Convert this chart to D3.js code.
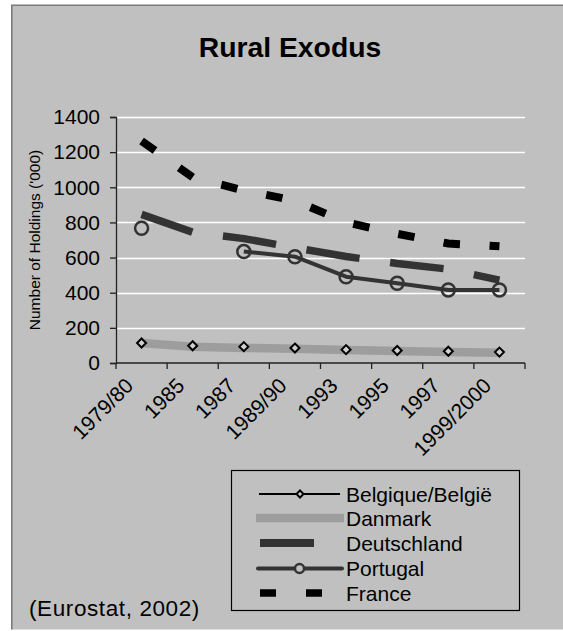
<!DOCTYPE html>
<html>
<head>
<meta charset="utf-8">
<script src="https://cdn.jsdelivr.net/npm/d3@7"></script>
<style>
  html, body { margin: 0; padding: 0; background: #ffffff; }
  svg { display: block; }
  text { font-family: Arial, "Liberation Sans", sans-serif; fill: #000; }
</style>
</head>
<body>
<svg id="chart" width="563" height="631"></svg>
<script>
// Number of agricultural holdings ('000), Eurostat 2002
const categories = ["1979/80", "1985", "1987", "1989/90", "1993", "1995", "1997", "1999/2000"];
const belgique   = [114, 98, 93, 85, 76, 71, 67, 62];
const danmark    = [114, 92, 86, 81, 74, 69, 63, 58];
const deutschland = [846, 744, 708, 656, 606, 566, 534, 472];
const portugal   = [767, null, 634, 605, 491, 454, 416, 416];
const france     = [1263, 1057, 982, 924, 801, 735, 680, 664];
const yTicks     = [0, 200, 400, 600, 800, 1000, 1200, 1400];
const seriesNames = ["Belgique/België", "Danmark", "Deutschland", "Portugal", "France"];

const svg = d3.select("#chart");
const bg = "#c0c0c0";

// chart area
svg.append("rect").attr("x", 11).attr("y", 5).attr("width", 560).attr("height", 624.5)
  .attr("fill", bg);
svg.append("path").attr("d", "M11.8,629.5V5.2H563")
  .attr("fill", "none").attr("stroke", "#7a7a7a").attr("stroke-width", 1.6);

const plot = { left: 116, right: 525, top: 117, bottom: 363 };

const x = d3.scaleBand().domain(categories).range([plot.left, plot.right]);
const cx = c => x(c) + x.bandwidth() / 2;
const y = d3.scaleLinear().domain([0, 1400]).range([plot.bottom, plot.top]);

// title
svg.append("text").attr("x", 290).attr("y", 57).attr("text-anchor", "middle")
  .style("font-size", "28.3px").style("font-weight", "bold").text("Rural Exodus");

// gridlines
svg.append("g").selectAll("line").data(yTicks.filter(d => d > 0)).join("line")
  .attr("x1", plot.left).attr("x2", plot.right)
  .attr("y1", d => Math.round(y(d)) + 0.5).attr("y2", d => Math.round(y(d)) + 0.5)
  .attr("stroke", "#ffffff").attr("stroke-width", 1.3);

// y axis
const yAxis = svg.append("g").attr("transform", `translate(${plot.left},0)`)
  .call(d3.axisLeft(y).tickValues(yTicks).tickSize(6).tickPadding(10).tickFormat(d3.format("d")));
yAxis.select(".domain").attr("stroke", "#222").attr("stroke-width", 1.3);
yAxis.selectAll(".tick line").attr("stroke", "#222").attr("stroke-width", 1.3);
yAxis.selectAll(".tick text").style("font-size", "21px")
  .style("font-family", "Arial, 'Liberation Sans', sans-serif").attr("fill", "#000");

// x axis: ticks between categories, rotated labels at centres
const xAxis = svg.append("g").attr("transform", `translate(0,${plot.bottom})`)
  .call(d3.axisBottom(x).tickSize(0).tickPadding(0));
xAxis.select(".domain").remove();
xAxis.append("line").attr("x1", plot.left).attr("x2", plot.right)
  .attr("stroke", "#222").attr("stroke-width", 1.3);
xAxis.selectAll("line.edge").data(categories.map(c => x(c)).concat([plot.right])).join("line")
  .attr("class", "edge")
  .attr("x1", d => d).attr("x2", d => d).attr("y1", 0).attr("y2", 6)
  .attr("stroke", "#222").attr("stroke-width", 1.3);
xAxis.selectAll(".tick text")
  .style("font-size", "21px").style("font-family", "Arial, 'Liberation Sans', sans-serif")
  .attr("fill", "#000")
  .attr("text-anchor", "end")
  .attr("dy", null)
  .attr("transform", "translate(-7,24) rotate(-45)");

// series lines
const line = d3.line().defined(d => d.v != null).x(d => cx(d.c)).y(d => y(d.v));
const pts = arr => categories.map((c, i) => ({ c, v: arr[i] }));

const lines = svg.append("g").attr("fill", "none");
lines.append("path").attr("d", line(pts(belgique)))
  .attr("stroke", "#000").attr("stroke-width", 1.5);
lines.append("path").attr("d", line(pts(danmark)))
  .attr("stroke", "#9d9d9d").attr("stroke-width", 8.5);
lines.append("path").attr("d", line(pts(deutschland)))
  .attr("stroke", "#333").attr("stroke-width", 7.5).attr("stroke-dasharray", "53.8,30.85");
lines.append("path").attr("d", line(pts(portugal)))
  .attr("stroke", "#333").attr("stroke-width", 4).attr("stroke-linejoin", "round");
lines.append("path").attr("d", line(pts(france)))
  .attr("stroke", "#000").attr("stroke-width", 8).attr("stroke-dasharray", "16.5,29.6");

// markers
const diamond = r => `M0,${-r}L${r},0L0,${r}L${-r},0Z`;
svg.append("g").selectAll("path").data(pts(belgique)).join("path")
  .attr("transform", d => `translate(${cx(d.c)},${y(d.v)})`)
  .attr("d", diamond(4.5)).attr("fill", "#d0d0d0").attr("stroke", "#000").attr("stroke-width", 2);
svg.append("g").selectAll("circle").data(pts(portugal).filter(d => d.v != null)).join("circle")
  .attr("cx", d => cx(d.c)).attr("cy", d => y(d.v)).attr("r", 6.5)
  .attr("fill", "none").attr("stroke", "#333").attr("stroke-width", 2.5);

// legend
const lg = svg.append("g");
lg.append("rect").attr("x", 231.5).attr("y", 470.5).attr("width", 288).attr("height", 140)
  .attr("fill", "none").attr("stroke", "#000").attr("stroke-width", 1.2);
const rowY = [494, 518, 543, 568.5, 593];
// Belgique/België
lg.append("line").attr("x1", 259).attr("x2", 340).attr("y1", rowY[0]).attr("y2", rowY[0])
  .attr("stroke", "#000").attr("stroke-width", 2);
lg.append("path").attr("transform", `translate(300,${rowY[0]})`).attr("d", diamond(3.5))
  .attr("fill", "#d0d0d0").attr("stroke", "#000").attr("stroke-width", 2);
// Danmark
lg.append("line").attr("x1", 256).attr("x2", 344).attr("y1", rowY[1]).attr("y2", rowY[1])
  .attr("stroke", "#9d9d9d").attr("stroke-width", 8.5);
// Deutschland
lg.append("line").attr("x1", 260).attr("x2", 314).attr("y1", rowY[2]).attr("y2", rowY[2])
  .attr("stroke", "#333").attr("stroke-width", 8);
// Portugal
lg.append("line").attr("x1", 258).attr("x2", 342).attr("y1", rowY[3]).attr("y2", rowY[3])
  .attr("stroke", "#333").attr("stroke-width", 4).attr("stroke-linecap", "round");
lg.append("circle").attr("cx", 299.5).attr("cy", rowY[3]).attr("r", 4.5)
  .attr("fill", bg).attr("stroke", "#333").attr("stroke-width", 2.5);
// France
lg.append("line").attr("x1", 260).attr("x2", 322).attr("y1", rowY[4]).attr("y2", rowY[4])
  .attr("stroke", "#000").attr("stroke-width", 7.5).attr("stroke-dasharray", "16,30");
lg.selectAll("text").data(seriesNames).join("text")
  .attr("x", 346).attr("y", (d, i) => rowY[i]).attr("dy", "0.36em")
  .style("font-size", "21px").text(d => d);

// source note
svg.append("text").attr("x", 29).attr("y", 616).style("font-size", "22.5px")
  .style("letter-spacing", "0.6px")
  .text("(Eurostat, 2002)");

// y axis title
svg.append("text").attr("transform", "translate(40,240) rotate(-90)")
  .attr("text-anchor", "middle").style("font-size", "15.5px")
  .text("Number of Holdings ('000)");
</script>
</body>
</html>
